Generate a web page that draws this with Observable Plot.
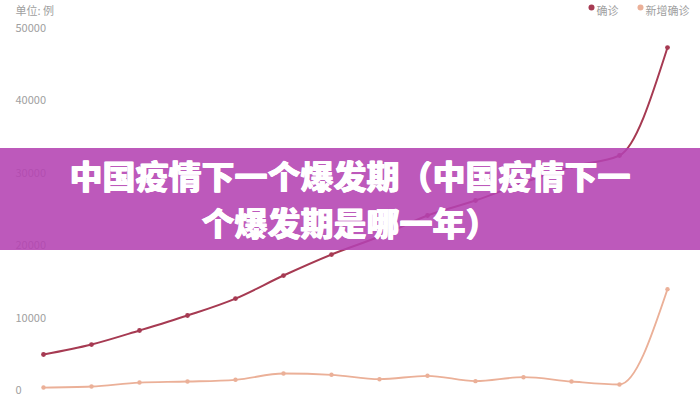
<!DOCTYPE html>
<html>
<head>
<meta charset="utf-8">
<script src="https://cdn.jsdelivr.net/npm/d3@7"></script>
<script src="https://cdn.jsdelivr.net/npm/@observablehq/plot@0.6"></script>
<style>
  html, body { margin: 0; padding: 0; background: #fff; }
  #wrap { position: relative; width: 700px; height: 400px; overflow: hidden; font-family: "Noto Sans CJK SC", "Noto Sans", sans-serif; }
  #banner {
    position: absolute; left: 0; top: 148px; width: 700px; height: 102px;
    background: rgba(180, 66, 178, 0.88);
    color: #fff; font-weight: 900; font-size: 33px; line-height: 47px;
    text-align: center; display: flex; align-items: center; justify-content: center;
    font-family: "Noto Sans CJK SC", sans-serif;
    text-shadow: 0.6px 0 0 #fff, -0.6px 0 0 #fff;
  }
</style>
</head>
<body>
<div id="wrap"><div id="chart"></div><div id="banner"><div>中国疫情下一个爆发期（中国疫情下一<br>个爆发期是哪一年）</div></div></div>
<script>
const days = ["1","2","3","4","5","6","7","8","9","10","11","12","13","14"];
const confirmed = [4970, 6350, 8290, 10360, 12700, 15880, 18780, 21270, 24170, 26240, 28700, 30940, 32460, 47370];
const newCases = [410, 550, 1100, 1240, 1480, 2350, 2170, 1560, 2030, 1290, 1840, 1240, 830, 14000];
const yTicks = [0, 10000, 20000, 30000, 40000, 50000];
const seriesNames = ["确诊", "新增确诊"];
const unitLabel = "单位: 例";

const colors = ["#a63a52", "#ebb098"];
const rows1 = days.map((d, i) => ({day: d, value: confirmed[i]}));
const rows2 = days.map((d, i) => ({day: d, value: newCases[i]}));

const chart = Plot.plot({
  width: 700,
  height: 400,
  marginLeft: 39,
  marginRight: 30,
  marginTop: 28,
  marginBottom: 10,
  style: {fontFamily: "'Noto Sans CJK SC', 'Noto Sans', sans-serif", background: "transparent", overflow: "visible"},
  x: {type: "point", domain: days, padding: 0, axis: null},
  y: {domain: [0, 50000]},
  marks: [
    Plot.axisY({ticks: yTicks, tickSize: 0, tickPadding: 24, textAnchor: "start", fill: "#a0a0a0", fontSize: 11, label: null, tickFormat: d => String(d)}),
    Plot.line(rows2, {x: "day", y: "value", stroke: colors[1], strokeWidth: 1.8, curve: "monotone-x"}),
    Plot.dot(rows2, {x: "day", y: "value", fill: colors[1], r: 2.2}),
    Plot.line(rows1, {x: "day", y: "value", stroke: colors[0], strokeWidth: 2, curve: "monotone-x"}),
    Plot.dot(rows1, {x: "day", y: "value", fill: colors[0], r: 2.4}),
    Plot.text([unitLabel], {text: d => d, frameAnchor: "top-left", dx: -24, dy: -21, textAnchor: "start", fill: "#a0a0a0", fontSize: 11}),
    Plot.dot([seriesNames[0]], {frameAnchor: "top-right", dx: -79, dy: -21, r: 3, fill: colors[0]}),
    Plot.text([seriesNames[0]], {text: d => d, frameAnchor: "top-right", dx: -74, dy: -21, textAnchor: "start", fill: "#a0a0a0", fontSize: 11}),
    Plot.dot([seriesNames[1]], {frameAnchor: "top-right", dx: -30, dy: -21, r: 3, fill: colors[1]}),
    Plot.text([seriesNames[1]], {text: d => d, frameAnchor: "top-right", dx: -25, dy: -21, textAnchor: "start", fill: "#a0a0a0", fontSize: 11})
  ]
});
document.getElementById("chart").appendChild(chart);
</script>
</body>
</html>
